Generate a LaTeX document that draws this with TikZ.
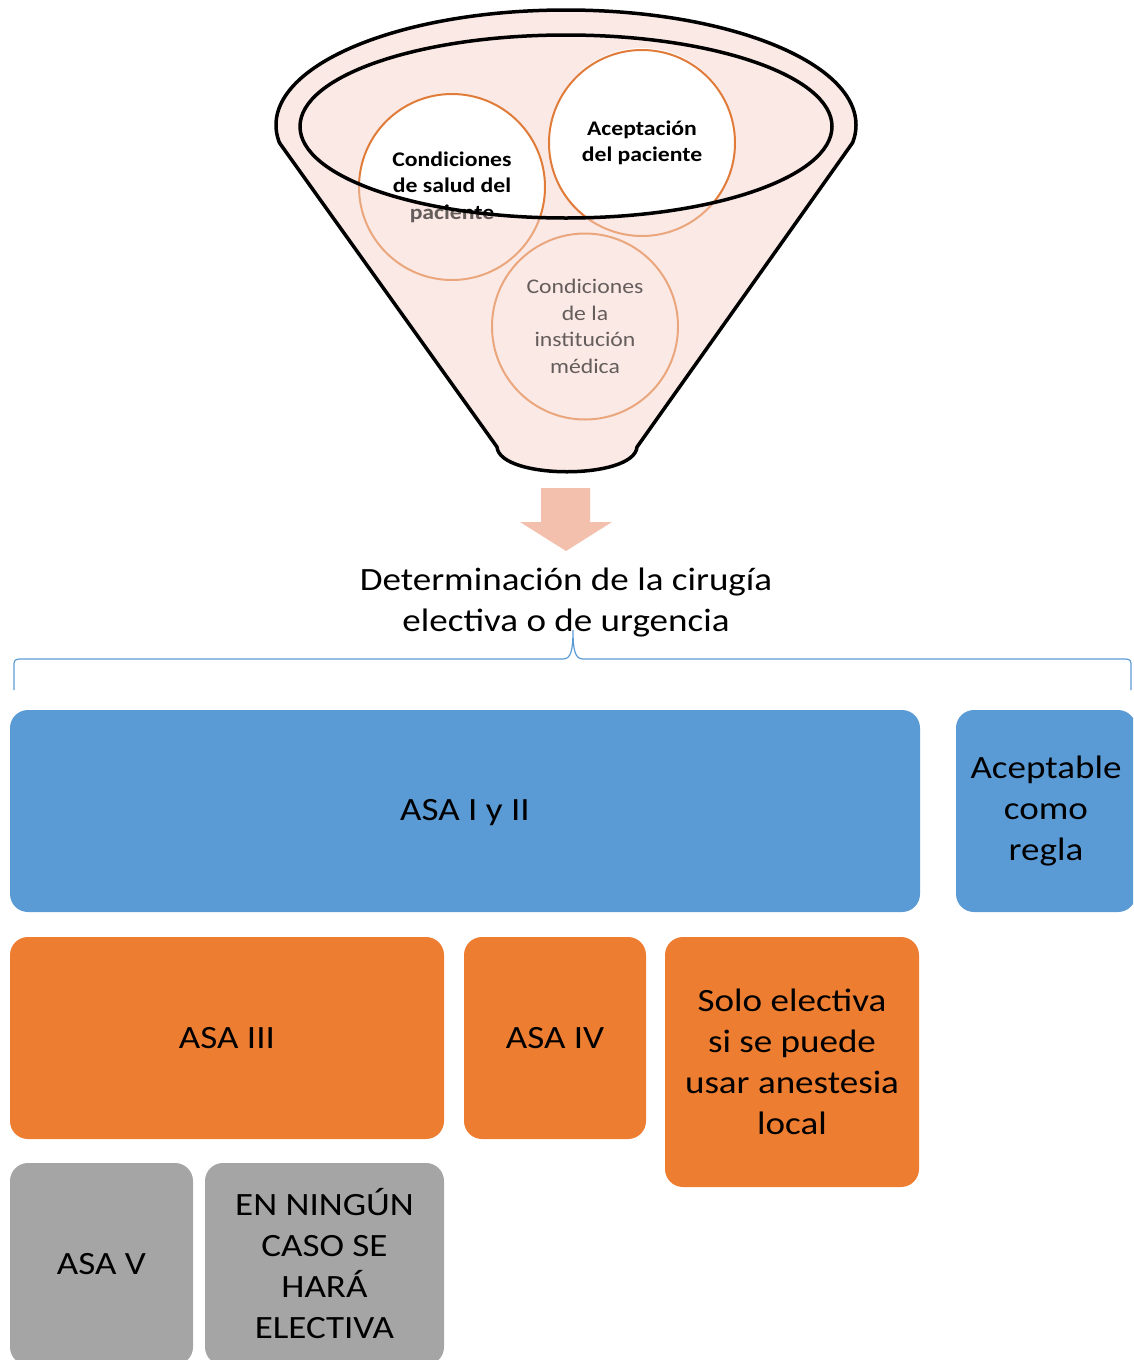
\documentclass[tikz,border=0pt]{standalone}
\usepackage{fontspec}
\setmainfont{Carlito}[FakeStretch=1.14]
\definecolor{funnelpink}{HTML}{FBE9E5}
\definecolor{arrowpink}{HTML}{F4C0AE}
\definecolor{circorange}{HTML}{E07B39}
\definecolor{asablue}{HTML}{5B9BD5}
\definecolor{asaorange}{HTML}{ED7D31}
\definecolor{asagray}{HTML}{A5A5A5}
\tikzset{
  funnelline/.style={draw=black, line width=3.5pt, line join=round},
  circ/.style={circle, draw=circorange, line width=2pt, minimum size=186pt, inner sep=0pt, align=center},
  circbold/.style={circ, font=\bfseries\fontsize{20.8}{26.5}\selectfont},
  circreg/.style={circ, font=\fontsize{20.8}{26.5}\selectfont},
  box/.style={rectangle, rounded corners=18pt, inner sep=0pt, align=center, text=black, font=\fontsize{32.5}{41}\selectfont},
  bracecol/.style={draw=asablue, line width=1.2pt}
}
\begin{document}
\begin{tikzpicture}[x=1pt,y=-1pt]
\useasboundingbox (0,0) rectangle (1133,1360);
\clip (0,0) rectangle (1133,1360);
% funnel body
\fill[funnelpink] (566,125) ellipse [x radius=290, y radius=115];
\fill[funnelpink] (279.6,143) -- (497,447) .. controls (500,480) and (634,480) .. (637,447) -- (852.4,143) -- cycle;
% white parts of circles inside the mouth
\begin{scope}
  \clip (566,126.5) ellipse [x radius=266, y radius=91.5];
  \fill[white] (452,186) circle [radius=93];
  \fill[white] (642,141) circle [radius=93];
\end{scope}
% circles
\node[circbold] (c1) at (452,187) {Condiciones\\de salud del\\paciente};
\node[circbold] (c2) at (642,143) {Aceptación\\del paciente};
\node[circreg] (c3) at (585,326.5) {Condiciones\\de la\\institución\\médica};
% translucent funnel wall over the circles
\begin{scope}
  \clip (452,186) circle [radius=97] (642,141) circle [radius=97] (585,326) circle [radius=97];
  \fill[funnelpink, fill opacity=0.4, even odd rule] (250,0) rectangle (880,480)
    (566,126.5) ellipse [x radius=266, y radius=91.5];
\end{scope}
% outlines
\draw[funnelline] (566,126.5) ellipse [x radius=266, y radius=91.5];
\begin{scope}
  \clip (0,0) rectangle (1133,143);
  \draw[funnelline] (566,125) ellipse [x radius=290, y radius=115];
\end{scope}
\draw[funnelline] (279.6,143) -- (497,447) .. controls (500,480) and (634,480) .. (637,447) -- (852.4,143);
% block arrow
\fill[arrowpink] (541,488) -- (590,488) -- (590,522) -- (612,522) -- (566,551) -- (520,522) -- (541,522) -- cycle;
% title
\node[align=center, font=\fontsize{32.5}{41}\selectfont] (title) at (566,603) {Determinación de la cirugía\\electiva o de urgencia};
% brace
\coordinate (braceL) at (14,690);
\coordinate (braceR) at (1131,690);
\coordinate (braceTip) at (573,630);
\draw[bracecol] (braceL) -- ++(0,-23) .. controls ++(0,-7) and ++(-8,0) .. (22,659) -- (563,659)
  .. controls (571,659) and (573,650) .. (braceTip)
  .. controls (573,650) and (575,659) .. (583,659) -- (1123,659)
  .. controls ++(8,0) and ++(0,-7) .. (1131,667) -- (braceR);
% boxes
\node[box, fill=asablue, minimum width=910, minimum height=202] (asa12) at (465,811) {\raisebox{-2pt}[\height][\depth]{ASA I y II}};
\node[box, fill=asablue, minimum width=180, minimum height=202] (acept) at (1046,811) {Aceptable\\como\\regla};
\node[box, fill=asaorange, minimum width=434, minimum height=202] (asa3) at (227,1038) {ASA III};
\node[box, fill=asaorange, minimum width=182, minimum height=202] (asa4) at (555,1038) {ASA IV};
\node[box, fill=asaorange, minimum width=254, minimum height=250] (solo) at (792,1062) {Solo electiva\\si se puede\\usar anestesia\\local};
\node[box, fill=asagray, minimum width=183, minimum height=202] (asa5) at (101.5,1264) {ASA V};
\node[box, fill=asagray, minimum width=239, minimum height=202] (ninguno) at (324.5,1264) {EN NINGÚN\\CASO SE\\HARÁ\\ELECTIVA};
\end{tikzpicture}
\end{document}
